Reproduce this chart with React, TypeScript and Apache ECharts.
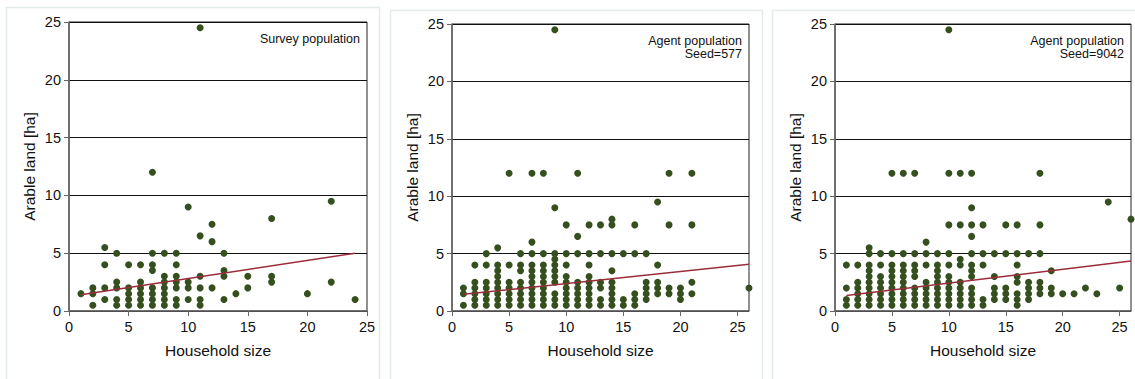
import React, { useEffect, useRef } from "react";
import * as echarts from "echarts";

// Household size -> arable land [ha], grouped by household size column.
const surveyColumns: [number, number[]][] = [
  [1, [1.5]],
  [2, [2, 1.5, 0.5]],
  [3, [5.5, 4, 2, 1]],
  [4, [5, 2.5, 2, 1, 0.5]],
  [5, [4, 2, 1.5, 1, 0.5]],
  [6, [4, 2.5, 2, 1.5, 1, 0.5]],
  [7, [12, 5, 4, 3.5, 2, 1.5, 1, 0.5]],
  [8, [5, 3, 2.5, 2, 1.5, 1, 0.5]],
  [9, [5, 4, 3, 2.5, 2, 1, 0.5]],
  [10, [9, 2.5, 2, 1]],
  [11, [24.5, 6.5, 3, 2, 1, 0.5]],
  [12, [7.5, 6, 2]],
  [13, [5, 3.5, 3, 1]],
  [14, [1.5]],
  [15, [3, 2]],
  [17, [8, 3, 2.5]],
  [20, [1.5]],
  [22, [9.5, 2.5]],
  [24, [1]],
];

const seed577Columns: [number, number[]][] = [
  [1, [2, 1.5, 0.5]],
  [2, [4, 2.5, 2, 1.5, 1, 0.5]],
  [3, [5, 4, 2.5, 2, 1.5, 1, 0.5]],
  [4, [5.5, 4, 3.5, 3, 2.5, 2, 1.5, 1, 0.5]],
  [5, [12, 4, 2.5, 2, 1.5, 1, 0.5]],
  [6, [5, 4, 3.5, 2.5, 2, 1.5, 1, 0.5]],
  [7, [12, 6, 5, 4, 3.5, 3, 2.5, 2, 1.5, 1, 0.5]],
  [8, [12, 5, 4, 3.5, 3, 2.5, 2, 1.5, 1, 0.5]],
  [9, [24.5, 9, 5, 4.5, 4, 3.5, 3, 2.5, 1.5, 1, 0.5]],
  [10, [7.5, 5, 4, 3, 2.5, 2, 1.5, 1, 0.5]],
  [11, [12, 6.5, 5, 2.5, 2, 1.5, 1, 0.5]],
  [12, [7.5, 5, 4, 3, 2.5, 2, 1.5, 1, 0.5]],
  [13, [7.5, 5, 2.5, 2, 1, 0.5]],
  [14, [8, 7.5, 5, 3.5, 2.5, 2, 1.5, 1, 0.5]],
  [15, [5, 1, 0.5]],
  [16, [7.5, 5, 1.5, 1, 0.5]],
  [17, [5, 2.5, 2, 1.5, 1]],
  [18, [9.5, 4, 2.5, 2, 1.5]],
  [19, [12, 7.5, 2, 1.5]],
  [20, [2, 1.5, 1]],
  [21, [12, 7.5, 2.5, 1.5]],
  [26, [2]],
];

const seed9042Columns: [number, number[]][] = [
  [1, [4, 2, 1, 0.5]],
  [2, [4, 2.5, 2, 1.5, 1, 0.5]],
  [3, [5.5, 5, 4, 3.5, 3, 2.5, 2, 1.5, 1, 0.5]],
  [4, [5, 4, 3, 2.5, 2, 1.5, 1, 0.5]],
  [5, [12, 5, 4, 3.5, 3, 2.5, 2, 1.5, 1, 0.5]],
  [6, [12, 5, 4, 3.5, 3, 2.5, 2, 1.5, 1, 0.5]],
  [7, [12, 5, 4, 3.5, 3, 2, 1.5, 1, 0.5]],
  [8, [6, 5, 4, 2.5, 2, 1.5, 1, 0.5]],
  [9, [5, 4, 3.5, 3, 2.5, 2, 1.5, 1, 0.5]],
  [10, [24.5, 12, 7.5, 5, 4, 3, 2.5, 2, 1.5, 1, 0.5]],
  [11, [12, 7.5, 4.5, 4, 2.5, 2, 1.5, 1, 0.5]],
  [12, [12, 9, 7.5, 6.5, 5, 4, 3.5, 3, 2, 1.5, 1, 0.5]],
  [13, [7.5, 5, 4, 1, 0.5]],
  [14, [5, 3, 2, 1.5, 1]],
  [15, [7.5, 5, 2, 1.5, 1]],
  [16, [7.5, 5, 4, 3, 2.5, 1.5, 1, 0.5]],
  [17, [5, 2.5, 2, 1.5, 1]],
  [18, [12, 7.5, 5, 2.5, 2, 1.5]],
  [19, [3.5, 2, 1.5]],
  [20, [1.5]],
  [21, [1.5]],
  [22, [2]],
  [23, [1.5]],
  [24, [9.5]],
  [25, [2]],
  [26, [8]],
];

// Fitted linear trends (endpoints)
const surveyTrend: [number, number][] = [[1, 1.4], [24, 5.0]];
const seed577Trend: [number, number][] = [[1, 1.45], [26, 4.07]];
const seed9042Trend: [number, number][] = [[1, 1.34], [26, 4.36]];

const xMaxes = [25, 26, 26];
const yTicks = [0, 5, 10, 15, 20, 25];
const panelLabels = [
  "Survey population",
  "Agent population\nSeed=577",
  "Agent population\nSeed=9042",
];
const xAxisTitle = "Household size";
const yAxisTitle = "Arable land [ha]";

const DOT = "#35501e";
const TREND = "#9b2d3a";
const FONT = "'Liberation Sans', Arial, sans-serif";

const flatten = (cols: [number, number[]][]) =>
  cols.flatMap(([x, ys]) => ys.map((y) => [x, y]));

export default function App() {
  const ref = useRef<HTMLDivElement>(null);

  useEffect(() => {
    if (!ref.current) return;
    const chart = echarts.init(ref.current, undefined, { renderer: "svg" });

    const grids = [
      { left: 69, top: 22, width: 298, height: 289 },
      { left: 452, top: 24, width: 297, height: 287 },
      { left: 835, top: 24, width: 296, height: 287 },
    ];
    const columns = [surveyColumns, seed577Columns, seed9042Columns];
    const trends = [surveyTrend, seed577Trend, seed9042Trend];
    const panels = [
      { x: 6, y: 7, w: 373, h: 380 },
      { x: 390, y: 10, w: 372, h: 380 },
      { x: 772, y: 10, w: 370, h: 380 },
    ];

    chart.setOption({
      animation: false,
      backgroundColor: "#ffffff",
      textStyle: { fontFamily: FONT },
      grid: grids.map((g) => ({
        ...g,
        show: true,
        borderColor: "#222",
        borderWidth: 1,
        backgroundColor: "transparent",
      })),
      xAxis: grids.map((_, i) => ({
        type: "value",
        gridIndex: i,
        min: 0,
        max: xMaxes[i],
        interval: 5,
        name: xAxisTitle,
        nameLocation: "middle",
        nameGap: 31,
        nameTextStyle: { fontSize: 15.5, color: "#111", fontFamily: FONT },
        axisLine: { show: true, onZero: false, lineStyle: { color: "#666", width: 1.5 } },
        axisTick: { show: true, length: 5, lineStyle: { color: "#666" } },
        axisLabel: {
          fontSize: 14.5,
          color: "#111",
          margin: 8,
          fontFamily: FONT,
          showMaxLabel: xMaxes[i] % 5 === 0,
        },
        splitLine: { show: false },
      })),
      yAxis: grids.map((_, i) => ({
        type: "value",
        gridIndex: i,
        min: yTicks[0],
        max: yTicks[yTicks.length - 1],
        interval: 5,
        name: yAxisTitle,
        nameLocation: "middle",
        nameGap: 32,
        nameRotate: 90,
        nameTextStyle: { fontSize: 15.5, color: "#111", fontFamily: FONT },
        axisLine: { show: true, onZero: false, lineStyle: { color: "#666", width: 1.5 } },
        axisTick: { show: true, length: 5, lineStyle: { color: "#666" } },
        axisLabel: { fontSize: 14.5, color: "#111", margin: 8, fontFamily: FONT },
        splitLine: { show: true, lineStyle: { color: "#111", width: 1 } },
      })),
      series: [
        ...columns.map((cols, i) => ({
          type: "scatter",
          xAxisIndex: i,
          yAxisIndex: i,
          data: flatten(cols),
          symbol: "circle",
          symbolSize: 7,
          itemStyle: { color: DOT, opacity: 1 },
          clip: false,
          z: 2,
        })),
        ...trends.map((t, i) => ({
          type: "line",
          xAxisIndex: i,
          yAxisIndex: i,
          data: t,
          showSymbol: false,
          symbol: "none",
          lineStyle: { color: TREND, width: 1.5 },
          z: 3,
        })),
      ],
      graphic: [
        ...panels.map((p) => ({
          type: "rect",
          shape: { x: p.x + 0.5, y: p.y + 0.5, width: p.w, height: p.h },
          style: { fill: "none", stroke: "#e2eaec", lineWidth: 1.5 },
          silent: true,
          z: -10,
        })),
        ...grids.map((g, i) => ({
          type: "text",
          x: g.left + g.width - 7,
          y: g.top + 10,
          style: {
            text: panelLabels[i],
            fontSize: 12.5,
            fontFamily: FONT,
            fill: "#111",
            align: "right",
            verticalAlign: "top",
            lineHeight: 13.5,
          },
          silent: true,
          z: 10,
        })),
      ],
    });

    return () => chart.dispose();
  }, []);

  return (
    <div
      ref={ref}
      style={{ position: "fixed", left: 0, top: 0, width: 1135, height: 379 }}
    />
  );
}
